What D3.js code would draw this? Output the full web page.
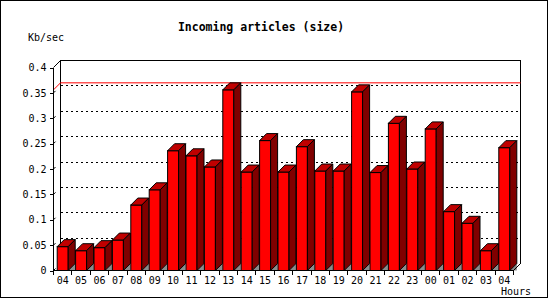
<!DOCTYPE html>
<html>
<head>
<meta charset="utf-8">
<script src="https://cdn.jsdelivr.net/npm/d3@7"></script>
<style>
  body { margin: 0; background: #fff; }
  svg text { font-family: "DejaVu Sans Mono", monospace; }
</style>
</head>
<body>
<svg id="chart" width="550" height="300"></svg>
<script>
// hours shown on the x axis
const hours = ["04","05","06","07","08","09","10","11","12","13","14","15","16",
               "17","18","19","20","21","22","23","00","01","02","03","04"];
// incoming size in Kb/sec, one per hour
const kbps = [0.047, 0.039, 0.045, 0.060, 0.129, 0.159, 0.236, 0.226, 0.204, 0.356,
              0.194, 0.256, 0.194, 0.244, 0.196, 0.196, 0.352, 0.193, 0.290, 0.200,
              0.279, 0.116, 0.093, 0.039, 0.242];
const yTicks = [0, 0.05, 0.1, 0.15, 0.2, 0.25, 0.3, 0.35, 0.4];

const svg = d3.select("#chart").attr("shape-rendering", "crispEdges");

// 3d offset of the back wall
const depth = 7;
const barW = 11;

// keep index as key since "04" shows twice
const xScale = d3.scaleBand()
    .domain(d3.range(hours.length))
    .range([53.5, 513.5]);

const yScale = d3.scaleLinear()
    .domain([0, 0.4])
    .range([270.5, 67.5]);

const xLeft = xScale.range()[0], xRight = xScale.range()[1];
const yBottom = yScale(0), yTop = yScale(0.4);

// outer border
svg.append("rect")
    .attr("x", 0.5).attr("y", 0.5)
    .attr("width", 547).attr("height", 297)
    .attr("fill", "#fff").attr("stroke", "#000");

// title + unit label
svg.append("text")
    .attr("x", 261).attr("y", 31)
    .attr("text-anchor", "middle")
    .style("font-size", "11.5px").style("font-weight", "bold")
    .text("Incoming articles (size)");

svg.append("text")
    .attr("x", 28).attr("y", 41)
    .style("font-size", "10px")
    .text("Kb/sec");

svg.append("text")
    .attr("x", 501).attr("y", 295)
    .style("font-size", "10px")
    .text("Hours");

// back wall
svg.append("path")
    .attr("d", `M${xLeft + depth},${yBottom - depth} V${yTop - depth} H${xRight + depth} V${yBottom - depth}`)
    .attr("fill", "none").attr("stroke", "#000");

// dotted grid on the back wall
svg.append("g")
    .selectAll("line")
    .data(yTicks.filter(t => t > 0 && t < 0.4))
    .enter()
    .append("line")
        .attr("x1", xLeft + depth)
        .attr("x2", xRight + depth - 3)
        .attr("y1", d => yScale(d) - depth)
        .attr("y2", d => yScale(d) - depth)
        .attr("stroke", "#000")
        .attr("stroke-dasharray", "2,3");

// small diagonal ticks going into depth
svg.append("g")
    .attr("shape-rendering", "auto")
    .selectAll("line")
    .data(yTicks.filter(t => t < 0.4))
    .enter()
    .append("line")
        .attr("x1", xLeft).attr("y1", d => yScale(d))
        .attr("x2", xLeft + 2).attr("y2", d => yScale(d) - 2)
        .attr("stroke", "#000");

// top left corner of the box
svg.append("line")
    .attr("shape-rendering", "auto")
    .attr("x1", xLeft).attr("y1", yTop)
    .attr("x2", xLeft + depth).attr("y2", yTop - depth)
    .attr("stroke", "#000");

// max line
const maxVal = d3.max(kbps);
svg.append("path")
    .attr("shape-rendering", "auto")
    .attr("d", `M${xLeft},${yScale(maxVal)} L${xLeft + depth},${yScale(maxVal) - depth} H${xRight + depth}`)
    .attr("fill", "none").attr("stroke", "#f00");

// bars: shadow, front, top, side
const bars = svg.append("g")
    .attr("shape-rendering", "auto")
    .selectAll("g")
    .data(kbps)
    .enter()
    .append("g")
    .attr("transform", (d, i) => "translate(" + (xScale(i) + (xScale.bandwidth() - barW) / 2) + ",0)");

bars.append("path")
    .attr("d", `M${barW},${yBottom} L${barW + depth},${yBottom - depth} V${yBottom} Z`)
    .attr("fill", "#8c8c8c");

bars.append("rect")
    .attr("x", 0)
    .attr("y", d => yScale(d))
    .attr("width", barW)
    .attr("height", d => yBottom - yScale(d))
    .attr("fill", "#ff0000").attr("stroke", "#000");

bars.append("path")
    .attr("d", d => {
        let y = yScale(d);
        return `M0,${y} L${depth},${y - depth} H${barW + depth} L${barW},${y} Z`;
    })
    .attr("fill", "#c00000").attr("stroke", "#000").attr("stroke-linejoin", "round");

bars.append("path")
    .attr("d", d => {
        let y = yScale(d);
        return `M${barW},${y} L${barW + depth},${y - depth} V${yBottom - depth} L${barW},${yBottom} Z`;
    })
    .attr("fill", "#800000").attr("stroke", "#000").attr("stroke-linejoin", "round");

// y axis
svg.append("g")
    .attr("transform", "translate(" + xLeft + ",0)")
    .style("font-size", "10px")
    .call(d3.axisLeft(yScale)
        .tickValues(yTicks)
        .tickSize(4)
        .tickPadding(3)
        .tickFormat(d => d === 0 ? "0" : String(+d.toFixed(2))))
    .call(g => g.select(".domain").attr("d", `M0,${yTop}V${yBottom}`))
    .call(g => g.selectAll("text").attr("fill", "#000").style("font-family", "DejaVu Sans Mono"));

// x axis with labels in the middle of each hour
svg.append("g")
    .attr("transform", "translate(0," + yBottom + ")")
    .style("font-size", "10px")
    .call(d3.axisBottom(xScale).tickSize(0).tickPadding(6).tickFormat(i => hours[i]))
    .call(g => g.select(".domain").attr("d", `M${xLeft},0H${xRight}`))
    .call(g => g.selectAll("text").attr("fill", "#000").style("font-family", "DejaVu Sans Mono"));

// hour boundary ticks
svg.append("g")
    .selectAll("line")
    .data(d3.range(hours.length + 1))
    .enter()
    .append("line")
        .attr("x1", i => i < hours.length ? xScale(i) : xRight)
        .attr("x2", i => i < hours.length ? xScale(i) : xRight)
        .attr("y1", yBottom).attr("y2", yBottom + 4)
        .attr("stroke", "#000");

// right end of the floor
svg.append("line")
    .attr("shape-rendering", "auto")
    .attr("x1", xRight).attr("y1", yBottom)
    .attr("x2", xRight + depth).attr("y2", yBottom - depth)
    .attr("stroke", "#000");
</script>
</body>
</html>
